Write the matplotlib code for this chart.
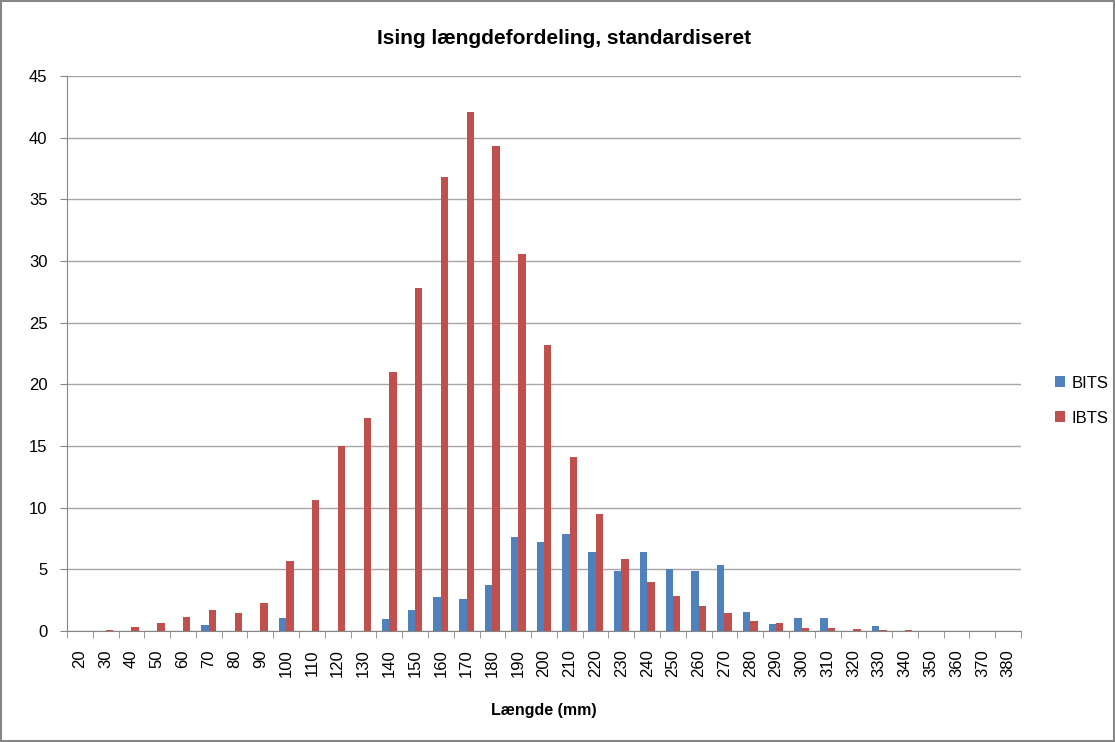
import numpy as np
import matplotlib
matplotlib.use("Agg")
import matplotlib.pyplot as plt
from matplotlib.patches import Rectangle

plt.rcParams['font.family'] = ['Liberation Sans', 'DejaVu Sans']

# length classes (mm)
lengths = list(range(20, 390, 10))
bits = [0, 0, 0, 0, 0, 0.49, 0, 0, 1.06, 0,
        0, 0, 0.95, 1.73, 2.76, 2.63, 3.71, 7.59, 7.18, 7.83,
        6.4, 4.9, 6.4, 5.02, 4.9, 5.37, 1.52, 0.57, 1.03, 1.03,
        0, 0.41, 0, 0, 0, 0, 0]
ibts = [0, 0.1, 0.3, 0.65, 1.14, 1.68, 1.44, 2.25, 5.64, 10.6,
        15.0, 17.3, 21.0, 27.8, 36.8, 42.1, 39.3, 30.6, 23.2, 14.1,
        9.49, 5.85, 3.96, 2.85, 2.06, 1.44, 0.79, 0.65, 0.27, 0.27,
        0.19, 0.11, 0.11, 0, 0, 0, 0]

blue = '#4F81BD'
red = '#C0504D'
grid_c = '#A6A6A6'

fig = plt.figure(figsize=(11.15, 7.42), dpi=100)
ax = fig.add_axes([0.0601, 0.1496, 0.8556, 0.748])

x = np.arange(len(lengths))
w = 0.286
ax.bar(x - w / 2, bits, width=w, color=blue, label='BITS', zorder=3)
ax.bar(x + w / 2, ibts, width=w, color=red, label='IBTS', zorder=3)

ax.set_xlim(-0.5, len(lengths) - 0.5)
ax.set_ylim(0, 45)
ax.set_yticks(range(0, 50, 5))
ax.yaxis.grid(True, color=grid_c, linewidth=1, zorder=0)

ax.set_xticks(x)
ax.set_xticklabels([str(v) for v in lengths], rotation=90, fontsize=12)
ax.set_xticks(np.arange(-0.5, len(lengths), 1), minor=True)
ax.tick_params(axis='x', which='major', length=0, pad=13)
ax.tick_params(axis='x', which='minor', length=5, color='#868686')
ax.tick_params(axis='y', length=5, color='#868686', labelsize=12, pad=9)

for s in ['top', 'right']:
    ax.spines[s].set_visible(False)
for s in ['left', 'bottom']:
    ax.spines[s].set_color('#868686')

ax.set_xlabel('Længde (mm)', fontsize=11.5, fontweight='bold', labelpad=19)
fig.text(0.506, 0.948, 'Ising længdefordeling, standardiseret',
         fontsize=15, fontweight='bold', ha='center', va='center')

ax.legend(loc='center left', bbox_to_anchor=(1.02, 0.415), frameon=False,
          fontsize=12, handlelength=0.6, handleheight=0.6,
          handletextpad=0.4, labelspacing=1.2)

fig.patches.append(Rectangle((0.001, 0.001), 0.998, 0.998, transform=fig.transFigure,
                             fill=False, edgecolor='#868686', linewidth=1.5))

fig.savefig('out.png', dpi=100)
